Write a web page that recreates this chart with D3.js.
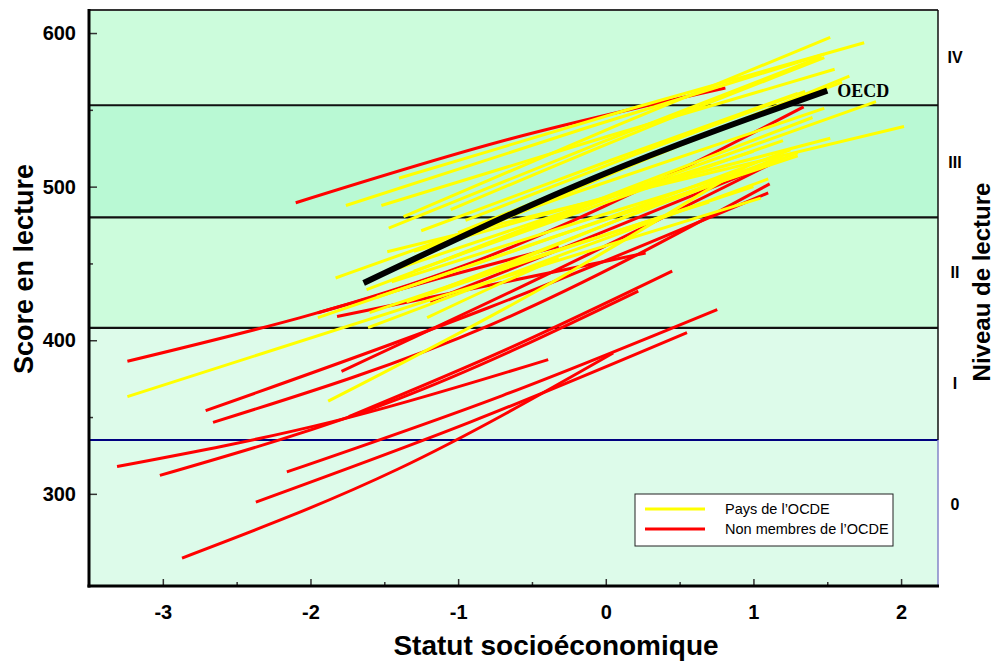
<!DOCTYPE html>
<html>
<head>
<meta charset="utf-8">
<script src="https://cdn.jsdelivr.net/npm/d3@7"></script>
<style>
  body { margin: 0; background: #fff; }
  svg text { font-family: Arial, "Liberation Sans", Helvetica, sans-serif; }
</style>
</head>
<body>
<div class="graph"></div>
<script>
/*--------------- DATA -------------*/

// axis ticks
const X_TICKS = [-3, -2, -1, 0, 1, 2];
const X_MINOR = [-2.5, -1.5, -0.5, 0.5, 1.5];
const Y_TICKS = [300, 400, 500, 600];
const Y_MINOR = [350, 450, 550];

// reading proficiency levels (score thresholds)
const LEVEL_LINES = [408, 480, 553];
const LEVEL_ONE_MIN = 335;
const BAND_LOW = [553, 480, 408, 240];
const BAND_HIGH = [615, 553, 480, 408];
const LEVEL_NAMES = ["IV", "III", "II", "I", "0"];
const LEVEL_MID = [584, 516, 444, 372, 293];

// OECD average gradient: start, middle, end  [statut, score]
const OECD_AVG = [[-1.64, 437.3], [-0.07, 506], [1.50, 562.5]];

// gradients of OECD countries
const OECD_LINES = [
  [[-3.24, 363.3], [-1.10, 429], [1.05, 492.5]],
  [[-1.88, 360.3], [-0.45, 433], [0.98, 515]],
  [[-1.21, 414.7], [-0.77, 434.5], [-0.32, 453.7]],
  [[-1.76, 487.7], [-0.14, 538], [1.48, 586.3]],
  [[-1.52, 487.7], [0.02, 533], [1.55, 576.4]],
  [[-1.40, 505.5], [0.18, 551], [1.75, 593.7]],
  [[-1.37, 480.4], [0.08, 540], [1.52, 597.2]],
  [[-1.47, 473.0], [0.00, 530], [1.46, 584.5]],
  [[-1.25, 471.3], [0.03, 517], [1.30, 560.8]],
  [[-1.48, 457.6], [0.27, 499], [2.02, 539.1]],
  [[-1.83, 440.5], [-0.18, 497], [1.48, 551]],
  [[-1.62, 432.9], [0.11, 496], [1.83, 555.4]],
  [[-1.95, 414.7], [-0.33, 468], [1.30, 520]],
  [[-1.61, 408.2], [-0.26, 457], [1.10, 505]],
  [[-1.30, 445], [-0.05, 488], [1.20, 530]],
  [[-1.10, 452], [0.15, 499], [1.40, 545]],
  [[-1.45, 438], [-0.18, 477], [1.10, 515]],
  [[-1.20, 430], [0.05, 477], [1.30, 522]],
  [[-1.00, 470], [0.30, 520], [1.60, 568]],
  [[-0.95, 478], [0.20, 521], [1.35, 562]],
  [[-1.35, 425], [-0.18, 463], [1.00, 500]],
  [[-1.15, 460], [0.25, 517], [1.65, 572]],
  [[-0.90, 440], [0.15, 481], [1.20, 520]],
  [[-1.30, 458], [0.11, 496], [1.52, 531.5]],
  [[-1.60, 418], [-0.45, 455], [0.70, 490]],
  [[-1.05, 485], [0.22, 536], [1.48, 584]],
  [[-1.55, 428], [-0.15, 474], [1.25, 524]],
  [[-1.40, 447], [-0.20, 486], [1.00, 523]]
];

// gradients of non-member countries
const PARTNER_LINES = [
  [[-2.10, 489.5], [-0.65, 531], [0.81, 564.2]],
  [[-3.24, 386.3], [-0.92, 450], [1.34, 551.9]],
  [[-2.71, 354.2], [-0.80, 421], [1.10, 496]],
  [[-2.66, 346.5], [-0.78, 410], [1.11, 501.8]],
  [[-3.31, 317.8], [-1.85, 347], [-0.39, 387.4]],
  [[-3.02, 312.0], [-1.40, 362], [0.22, 432]],
  [[-2.16, 314.3], [-0.70, 364], [0.755, 420]],
  [[-2.37, 294.6], [-0.91, 347], [0.55, 405]],
  [[-2.87, 258.2], [-1.41, 316], [0.05, 391.7]],
  [[-1.95, 417.9], [-1.14, 440], [-0.32, 461.1]],
  [[-1.79, 379.8], [-0.33, 446], [1.13, 515.3]],
  [[-1.82, 415.5], [-0.78, 436], [0.27, 456.8]],
  [[-1.74, 350.3], [-0.65, 395], [0.45, 445]],
  [[-1.19, 425.3], [-0.11, 467], [0.98, 509.6]]
];

const LEGEND_LABELS = ["Pays de l’OCDE", "Non membres de l’OCDE"];

/*--------------- D3 STUFF -------------*/

const SIZE = {X: 995, Y: 662};
const PLOT = {LEFT: 89, TOP: 10, RIGHT: 938, BOTTOM: 586};
const BAND_COLORS = ["#ccfcdc", "#b9f9d4", "#ccfcdc", "#ddfbea"];

const svg = d3.select(".graph").append("svg")
    .attr("width", SIZE.X)
    .attr("height", SIZE.Y);

//scales
const x = d3.scaleLinear().domain([-3.5, 2.25]).range([PLOT.LEFT, PLOT.RIGHT]);
const y = d3.scaleLinear().domain([240, 615]).range([PLOT.BOTTOM, PLOT.TOP]);

//background bands
svg.append("g").selectAll("rect")
    .data(BAND_LOW)
    .enter().append("rect")
    .attr("x", PLOT.LEFT)
    .attr("width", PLOT.RIGHT - PLOT.LEFT)
    .attr("y", (d, i) => y(BAND_HIGH[i]))
    .attr("height", (d, i) => y(d) - y(BAND_HIGH[i]))
    .attr("fill", (d, i) => BAND_COLORS[i]);

//level lines
svg.append("g").selectAll("line")
    .data(LEVEL_LINES)
    .enter().append("line")
    .attr("x1", PLOT.LEFT).attr("x2", PLOT.RIGHT)
    .attr("y1", d => y(d)).attr("y2", d => y(d))
    .attr("stroke", "#111")
    .attr("stroke-width", 2.2);

svg.append("line")
    .attr("x1", PLOT.LEFT).attr("x2", PLOT.RIGHT)
    .attr("y1", y(LEVEL_ONE_MIN)).attr("y2", y(LEVEL_ONE_MIN))
    .attr("stroke", "#000080")
    .attr("stroke-width", 2);

//clip for the gradients
svg.append("defs").append("clipPath").attr("id", "clip")
    .append("rect")
    .attr("x", PLOT.LEFT).attr("y", PLOT.TOP)
    .attr("width", PLOT.RIGHT - PLOT.LEFT)
    .attr("height", PLOT.BOTTOM - PLOT.TOP);

const lineGen = d3.line()
    .x(d => x(d[0]))
    .y(d => y(d[1]))
    .curve(d3.curveNatural);

const lines = svg.append("g").attr("clip-path", "url(#clip)");

lines.selectAll(".partner")
    .data(PARTNER_LINES)
    .enter().append("path")
    .attr("class", "partner")
    .attr("d", lineGen)
    .attr("fill", "none")
    .attr("stroke", "#ff0000")
    .attr("stroke-width", 3);

lines.selectAll(".oecd")
    .data(OECD_LINES)
    .enter().append("path")
    .attr("class", "oecd")
    .attr("d", lineGen)
    .attr("fill", "none")
    .attr("stroke", "#ffff00")
    .attr("stroke-width", 3);

lines.append("path")
    .datum(OECD_AVG)
    .attr("d", lineGen)
    .attr("fill", "none")
    .attr("stroke", "#000")
    .attr("stroke-width", 6);

svg.append("text")
    .attr("x", x(OECD_AVG[2][0]) + 10)
    .attr("y", y(OECD_AVG[2][1]) + 6)
    .style("font-family", "'Liberation Serif', 'Times New Roman', serif")
    .style("font-weight", "bold")
    .style("font-size", "18px")
    .text("OECD");

//axes (ticks point inside the plot)
svg.append("g")
    .attr("transform", `translate(0, ${PLOT.BOTTOM})`)
    .call(d3.axisBottom(x).tickValues(X_TICKS).tickSize(-7).tickPadding(19).tickFormat(d => String(d)));

svg.append("g")
    .attr("transform", `translate(0, ${PLOT.BOTTOM})`)
    .call(d3.axisBottom(x).tickValues(X_MINOR).tickSize(-4).tickFormat(""));

svg.append("g")
    .attr("transform", `translate(${PLOT.LEFT}, 0)`)
    .call(d3.axisLeft(y).tickValues(Y_TICKS).tickSize(-8).tickPadding(13).tickFormat(d => String(d)));

svg.append("g")
    .attr("transform", `translate(${PLOT.LEFT}, 0)`)
    .call(d3.axisLeft(y).tickValues(Y_MINOR).tickSize(-4).tickFormat(""));

svg.selectAll(".domain").remove();
svg.selectAll(".tick line").attr("stroke", "#333").attr("stroke-width", 1.5);
svg.selectAll(".tick text")
    .attr("fill", "#000")
    .style("font-size", "20px")
    .style("font-weight", "bold");

//frame
const frame = svg.append("g").attr("fill", "none");
frame.append("line").attr("x1", PLOT.LEFT).attr("x2", PLOT.RIGHT)
    .attr("y1", PLOT.TOP).attr("y2", PLOT.TOP).attr("stroke", "#333").attr("stroke-width", 2);
frame.append("line").attr("x1", PLOT.RIGHT).attr("x2", PLOT.RIGHT)
    .attr("y1", PLOT.TOP).attr("y2", y(LEVEL_ONE_MIN)).attr("stroke", "#111").attr("stroke-width", 1.5);
frame.append("line").attr("x1", PLOT.RIGHT).attr("x2", PLOT.RIGHT)
    .attr("y1", y(LEVEL_ONE_MIN)).attr("y2", PLOT.BOTTOM).attr("stroke", "#8585c8").attr("stroke-width", 1.5);
frame.append("line").attr("x1", PLOT.LEFT).attr("x2", PLOT.LEFT)
    .attr("y1", PLOT.TOP - 1).attr("y2", PLOT.BOTTOM + 1.5).attr("stroke", "#000").attr("stroke-width", 3);
frame.append("line").attr("x1", PLOT.LEFT - 1.5).attr("x2", PLOT.RIGHT + 1)
    .attr("y1", PLOT.BOTTOM).attr("y2", PLOT.BOTTOM).attr("stroke", "#000").attr("stroke-width", 3);

//level names on the right
svg.append("g").selectAll("text")
    .data(LEVEL_NAMES)
    .enter().append("text")
    .attr("x", 955)
    .attr("y", (d, i) => y(LEVEL_MID[i]))
    .attr("dy", "0.35em")
    .attr("text-anchor", "middle")
    .style("font-size", "16px")
    .style("font-weight", "bold")
    .text(d => d);

//axis titles
svg.append("text")
    .attr("transform", "translate(33, 269) rotate(-90)")
    .attr("text-anchor", "middle")
    .style("font-size", "27px")
    .style("font-weight", "bold")
    .text("Score en lecture");

svg.append("text")
    .attr("x", 556)
    .attr("y", 655)
    .attr("text-anchor", "middle")
    .style("font-size", "28px")
    .style("font-weight", "bold")
    .text("Statut socioéconomique");

svg.append("text")
    .attr("transform", "translate(990, 282) rotate(-90)")
    .attr("text-anchor", "middle")
    .style("font-size", "24px")
    .style("font-weight", "bold")
    .text("Niveau de lecture");

//legend
const legend = svg.append("g").attr("transform", "translate(635, 494)");
legend.append("rect")
    .attr("width", 258).attr("height", 52)
    .attr("fill", "#fff")
    .attr("stroke", "#222").attr("stroke-width", 1);

const LEGEND_COLORS = ["#ffff00", "#ff0000"];
const items = legend.selectAll(".item")
    .data(LEGEND_LABELS)
    .enter().append("g")
    .attr("class", "item")
    .attr("transform", (d, i) => `translate(0, ${15 + i * 20})`);

items.append("line")
    .attr("x1", 10).attr("x2", 70)
    .attr("stroke", (d, i) => LEGEND_COLORS[i])
    .attr("stroke-width", 3);

items.append("text")
    .attr("x", 90)
    .attr("dy", "0.35em")
    .style("font-size", "14.5px")
    .text(d => d);
</script>
</body>
</html>
